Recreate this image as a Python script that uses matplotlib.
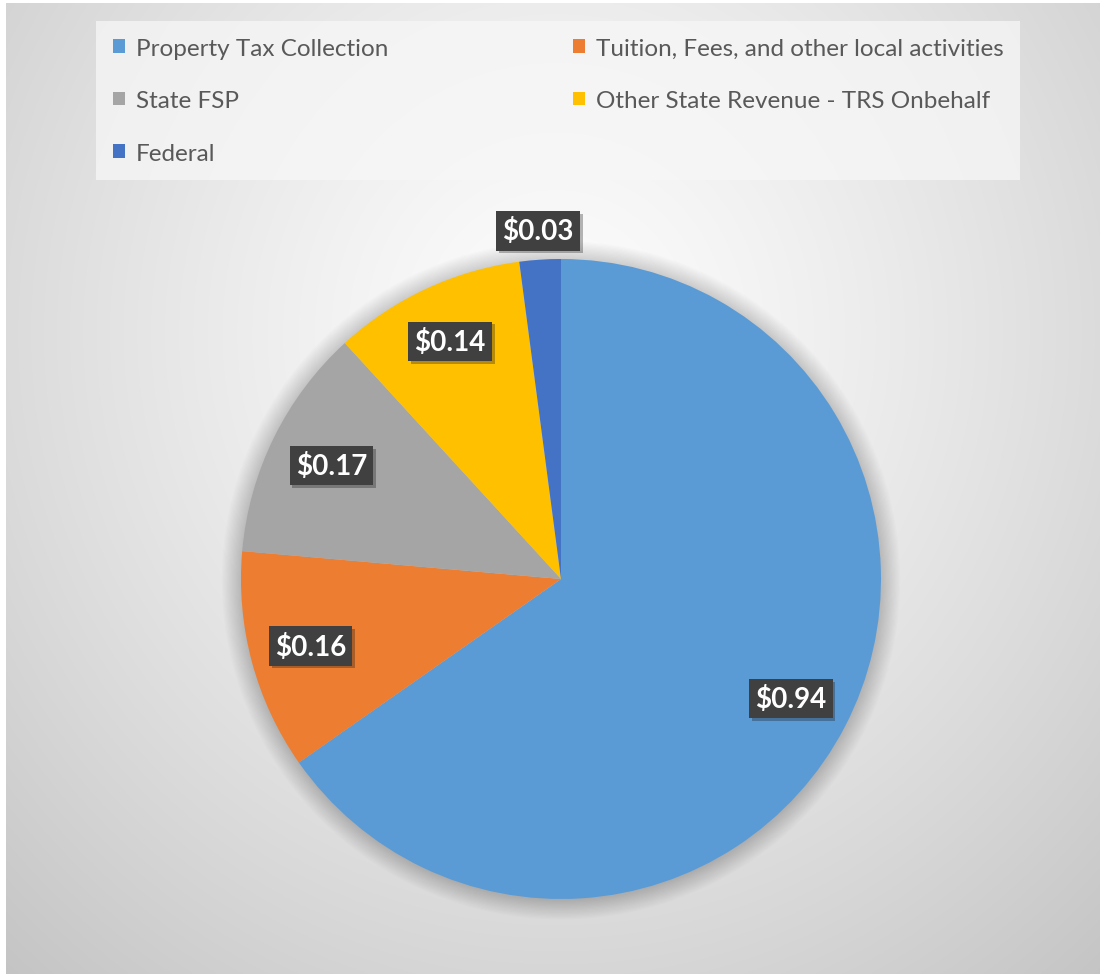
import numpy as np
import matplotlib.pyplot as plt
from matplotlib.patches import Patch, Circle
import matplotlib.patheffects as pe

plt.rcParams['font.family'] = ['Lato', 'DejaVu Sans']

# revenue per dollar, clockwise from 12 o'clock
categories = ['Property Tax Collection', 'Tuition, Fees, and other local activities',
              'State FSP', 'Other State Revenue - TRS Onbehalf', 'Federal']
values = [0.94, 0.16, 0.17, 0.14, 0.03]
labels = ['$0.94', '$0.16', '$0.17', '$0.14', '$0.03']
colors = ['#5B9BD5', '#ED7D31', '#A5A5A5', '#FFC000', '#4472C4']
label_dist = [0.81, 0.81, 0.80, 0.82, 1.09]

W, H = 1107, 979
fig = plt.figure(figsize=(W / 100, H / 100), dpi=100)
fig.patch.set_facecolor('white')

# radial grey gradient background
bg = fig.add_axes([6 / W, 4 / H, (1100 - 6) / W, (975 - 4) / H])
yy, xx = np.mgrid[0:971, 0:1094]
d = np.sqrt(((xx - 550) / 1.0) ** 2 + ((yy - 330) / 1.05) ** 2) / 820
shade = np.clip(0.99 - 0.22 * d ** 1.3, 0, 1)
bg.imshow(np.dstack([shade] * 3), aspect='auto', extent=[0, 1, 0, 1], origin='upper')
bg.set_axis_off()

# pie
cx, cy, R = 561, 580, 320
pad = 40
ax = fig.add_axes([(cx - R - pad) / W, (H - cy - R - pad) / H, (2 * R + 2 * pad) / W, (2 * R + 2 * pad) / H])

wedges, _ = ax.pie(values, colors=colors, startangle=90, counterclock=False, radius=1,
                   wedgeprops=dict(linewidth=0), center=(0, 0), frame=False)
ax.set_xlim(-1 - pad / R, 1 + pad / R)
ax.set_ylim(-1 - pad / R, 1 + pad / R)
ax.set_aspect('equal')
ax.set_axis_off()
for w in wedges:
    w.set_zorder(2)

# soft shadow behind the pie
for i in range(16):
    ax.add_patch(Circle((0, -0.004), 1 + 0.004 * i, color='black', alpha=0.012, lw=0, zorder=0))

for w, lab, dist in zip(wedges, labels, label_dist):
    ang = np.deg2rad((w.theta1 + w.theta2) / 2)
    t = ax.text(dist * np.cos(ang), dist * np.sin(ang), lab, ha='center', va='center',
                color='white', fontsize=20, fontweight='bold', zorder=5,
                bbox=dict(boxstyle='square,pad=0.22', facecolor='#404040', edgecolor='none'))
    t.get_bbox_patch().set_path_effects([pe.SimplePatchShadow(offset=(2, -2), alpha=0.3),
                                         pe.Normal()])

# legend, filled row by row
order = [0, 2, 4, 1, 3]
handles = [Patch(facecolor=colors[i], edgecolor='none') for i in order]
leg = fig.legend(handles, [categories[i] for i in order], ncol=2,
                 loc='upper left', bbox_to_anchor=(96 / W, 1 - 22 / H), borderaxespad=0,
                 frameon=True, fancybox=False, fontsize=17.5,
                 handlelength=0.5, handleheight=0.5, handletextpad=0.45,
                 columnspacing=7.6, labelspacing=1.3, borderpad=0.68,
                 labelcolor='#595959')
frame = leg.get_frame()
frame.set_facecolor('#f7f7f7')
frame.set_edgecolor('none')
frame.set_alpha(0.75)

fig.savefig('out.png', dpi=100, facecolor=fig.get_facecolor())
